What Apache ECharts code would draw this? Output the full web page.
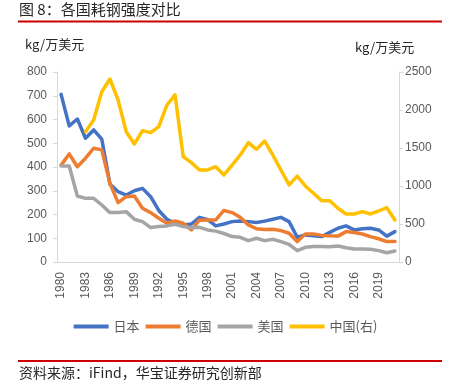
<!DOCTYPE html>
<html><head><meta charset="utf-8">
<script src="https://cdn.jsdelivr.net/npm/echarts@6/dist/echarts.min.js"></script>
<style>html,body{margin:0;padding:0;background:#fff}#c{width:451px;height:389px}</style>
</head><body><div id="c"></div>
<script>
var years = [];
for (var y = 1980; y <= 2021; y++) years.push(String(y));

var japan = [706,573,602,521,556,517,328,296,282,300,310,275,217,180,163,156,160,188,178,152,160,170,173,170,166,172,180,188,170,104,114,110,107,125,142,152,135,140,142,135,109,128];
var germany = [408,455,401,437,479,472,331,250,275,278,226,208,184,163,173,163,135,176,177,177,217,208,188,156,140,137,138,132,121,86,118,118,112,110,109,128,124,118,107,98,86,86];
var usa = [404,404,278,268,268,240,208,208,212,180,170,145,149,152,159,149,144,146,135,130,120,107,104,90,100,90,96,86,74,48,62,65,65,64,67,60,55,55,54,48,39,46];
var china = [null,null,null,1715,1869,2241,2408,2132,1715,1553,1728,1702,1781,2066,2198,1386,1307,1211,1211,1254,1145,1276,1408,1570,1483,1592,1408,1211,1015,1130,1000,904,807,807,707,632,632,662,632,671,715,553];

var seriesNames = ['日本','德国','美国','中国(右)'];
var colors = ['#4472C4','#ED7D31','#A5A5A5','#FFC000'];

var cjk = '"Noto Sans CJK SC", "Liberation Sans", sans-serif';
var num = '"Liberation Sans", Arial, sans-serif';
var every3 = function (i) { return i % 3 === 0; };
var plain = function (v) { return String(v); };

var chart = echarts.init(document.getElementById('c'), null, {renderer: 'canvas'});
var lineSeries = function (name, data, idx, yi) {
  return {
    name: name, type: 'line', data: data, yAxisIndex: yi,
    symbol: 'none', connectNulls: false,
    lineStyle: {width: 3.5, color: colors[idx], cap: 'round', join: 'round'},
    itemStyle: {color: colors[idx]},
    emphasis: {disabled: true}
  };
};
chart.setOption({
  animation: false,
  color: colors,
  grid: {left: 57, right: 52, top: 72, bottom: 127, containLabel: false},
  legend: {
    data: seriesNames, top: 315, left: 'center',
    icon: 'rect', itemWidth: 35, itemHeight: 4, itemGap: 6,
    textStyle: {fontFamily: cjk, fontSize: 13, color: '#595959'}
  },
  xAxis: {
    type: 'category', data: years, boundaryGap: true,
    axisLine: {lineStyle: {color: '#d9d9d9', width: 1}},
    axisTick: {interval: every3, length: 5, lineStyle: {color: '#d9d9d9'}},
    axisLabel: {interval: every3, rotate: 90, margin: 10, color: '#595959', fontSize: 12, fontFamily: num}
  },
  yAxis: [
    {type: 'value', min: 0, max: 800, interval: 100, position: 'left',
     axisLine: {show: true, lineStyle: {color: '#d9d9d9'}},
     axisTick: {show: true, length: 4, lineStyle: {color: '#d9d9d9'}},
     splitLine: {show: false},
     axisLabel: {margin: 10, color: '#595959', fontSize: 12, fontFamily: num, formatter: plain}},
    {type: 'value', min: 0, max: 2500, interval: 500, position: 'right',
     axisLine: {show: true, lineStyle: {color: '#d9d9d9'}},
     axisTick: {show: true, length: 4, lineStyle: {color: '#d9d9d9'}},
     splitLine: {show: false},
     axisLabel: {margin: 6, color: '#595959', fontSize: 12, fontFamily: num, formatter: plain}}
  ],
  series: [
    lineSeries(seriesNames[0], japan, 0, 0),
    lineSeries(seriesNames[1], germany, 1, 0),
    lineSeries(seriesNames[2], usa, 2, 0),
    lineSeries(seriesNames[3], china, 3, 1)
  ],
  graphic: [
    {type: 'text', left: 19, top: 2, style: {text: '图 8：各国耗钢强度对比', font: '15px ' + cjk, fill: '#262626'}},
    {type: 'rect', shape: {x: 18, y: 20.5, width: 424, height: 2}, style: {fill: '#CC0000'}},
    {type: 'text', left: 25, top: 38, style: {text: 'kg/万美元', font: '13px ' + cjk, fill: '#262626'}},
    {type: 'text', left: 355, top: 41, style: {text: 'kg/万美元', font: '13px ' + cjk, fill: '#262626'}},
    {type: 'rect', shape: {x: 18, y: 360, width: 424, height: 2}, style: {fill: '#CC0000'}},
    {type: 'text', left: 19, top: 366, style: {text: '资料来源：iFind，华宝证券研究创新部', font: '14px ' + cjk, fill: '#262626'}}
  ]
});
</script>
</body></html>
